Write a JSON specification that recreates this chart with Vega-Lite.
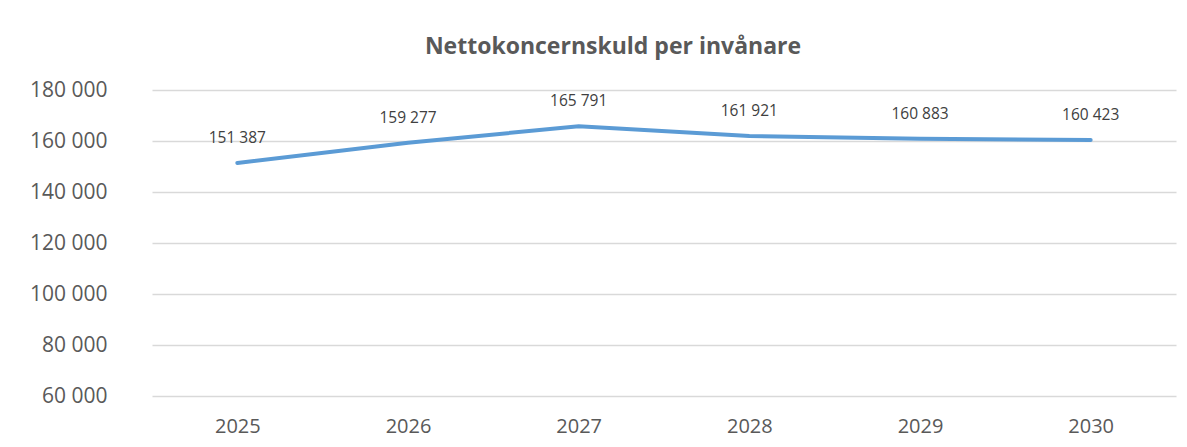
{
  "$schema": "https://vega.github.io/schema/vega-lite/v6.json",
  "autosize": {"type": "none"},
  "width": 1024,
  "height": 306,
  "padding": {"left": 152, "top": 90, "right": 11, "bottom": 51},
  "background": "white",
  "config": {
    "locale": {"number": {"decimal": ",", "thousands": " ", "grouping": [3], "currency": ["", " kr"]}},
    "view": {"stroke": null},
    "font": "Open Sans"
  },
  "title": {
    "text": "Nettokoncernskuld per invånare",
    "fontSize": 23,
    "fontWeight": "bold",
    "color": "#595959",
    "font": "Open Sans",
    "anchor": "middle",
    "offset": 20,
    "dx": -51
  },
  "data": {
    "values": [
      {"year": "2025", "value": 151387},
      {"year": "2026", "value": 159277},
      {"year": "2027", "value": 165791},
      {"year": "2028", "value": 161921},
      {"year": "2029", "value": 160883},
      {"year": "2030", "value": 160423}
    ]
  },
  "encoding": {
    "x": {
      "field": "year",
      "type": "ordinal",
      "scale": {"type": "point", "padding": 0.5},
      "axis": {
        "title": null,
        "labelAngle": 0,
        "domain": false,
        "ticks": false,
        "labelFontSize": 20,
        "labelColor": "#595959",
        "labelPadding": 20,
        "grid": false
      }
    },
    "y": {
      "field": "value",
      "type": "quantitative",
      "scale": {"domain": [60000, 180000], "nice": false, "zero": false},
      "axis": {
        "title": null,
        "values": [60000, 80000, 100000, 120000, 140000, 160000, 180000],
        "format": ",d",
        "domain": false,
        "ticks": false,
        "labelFontSize": 21,
        "labelColor": "#595959",
        "labelPadding": 45,
        "gridColor": "#d9d9d9",
        "gridWidth": 1.5
      }
    }
  },
  "layer": [
    {
      "mark": {"type": "line", "color": "#5b9bd5", "strokeWidth": 4, "strokeCap": "round"}
    },
    {
      "mark": {"type": "text", "dy": -25, "fontSize": 15.5, "color": "#404040", "font": "Open Sans"},
      "encoding": {
        "text": {"field": "value", "type": "quantitative", "format": ",d"}
      }
    }
  ]
}
